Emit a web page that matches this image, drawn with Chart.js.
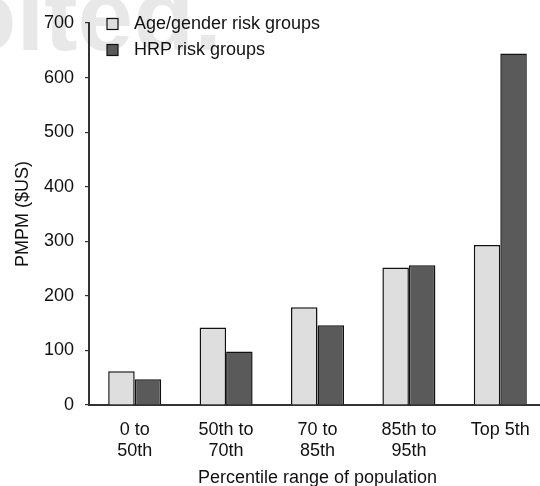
<!DOCTYPE html>
<html>
<head>
<meta charset="utf-8">
<script src="https://cdn.jsdelivr.net/npm/chart.js@4/dist/chart.umd.min.js"></script>
<style>
  html, body { margin: 0; padding: 0; background: #fff; overflow: hidden; }
  #wrap { width: 548px; height: 486px; }
</style>
</head>
<body>
<div id="wrap"><canvas id="c" width="548" height="486"></canvas></div>
<script>
const categories = [["0 to", "50th"], ["50th to", "70th"], ["70 to", "85th"], ["85th to", "95th"], ["Top 5th"]];
const ageGenderValues = [62, 142, 179, 252, 293];
const hrpValues = [47, 98, 146, 256, 644];
const seriesNames = ["Age/gender risk groups", "HRP risk groups"];
const yTicks = [0, 100, 200, 300, 400, 500, 600, 700];

const FONT = "'Liberation Sans', Arial, Helvetica, sans-serif";
const TXT = "#111";
const FS = 18;

const bgPlugin = {
  id: "bg",
  beforeDraw(chart) {
    const ctx = chart.ctx;
    ctx.save();
    ctx.fillStyle = "#fff";
    ctx.fillRect(0, 0, chart.width, chart.height);
    ctx.fillStyle = "#e8e8e8";
    ctx.font = "bold 100px " + FONT;
    ctx.textAlign = "right";
    ctx.textBaseline = "alphabetic";
    ctx.fillText("oited.", 222, 50);
    ctx.restore();
  }
};

const legendPlugin = {
  id: "customLegend",
  afterDraw(chart) {
    const ctx = chart.ctx;
    ctx.save();
    ctx.font = FS + "px " + FONT;
    ctx.textBaseline = "middle";
    ctx.textAlign = "left";
    chart.data.datasets.forEach((ds, i) => {
      const y = 24.5 + i * 26;
      ctx.fillStyle = ds.backgroundColor;
      ctx.fillRect(107, y - 6, 11, 11);
      ctx.strokeStyle = "#111";
      ctx.lineWidth = 1.2;
      ctx.strokeRect(107, y - 6, 11, 11);
      ctx.fillStyle = TXT;
      ctx.fillText(ds.label, 134, y);
    });
    ctx.restore();
  }
};

new Chart(document.getElementById("c"), {
  type: "bar",
  data: {
    labels: categories,
    datasets: [
      { label: seriesNames[0], data: ageGenderValues, backgroundColor: "#dedede", borderColor: "#111", borderWidth: 1.5 },
      { label: seriesNames[1], data: hrpValues, backgroundColor: "#5a5a5a", borderColor: "#111", borderWidth: 1.5 }
    ]
  },
  options: {
    responsive: false,
    devicePixelRatio: 1,
    animation: false,
    layout: { padding: { left: 0, top: 23, right: 2, bottom: 0 } },
    datasets: { bar: { categoryPercentage: 0.58, barPercentage: 1.0 } },
    plugins: { legend: { display: false }, tooltip: { enabled: false } },
    scales: {
      x: {
        grid: { display: false, drawTicks: false },
        border: { display: true, color: "#333", width: 2 },
        ticks: { color: TXT, font: { family: FONT, size: FS, lineHeight: 1.2 }, padding: 14, maxRotation: 0, autoSkip: false },
        title: { display: true, text: "Percentile range of population", color: TXT, font: { family: FONT, size: FS, lineHeight: 1.2 }, padding: { top: 0, bottom: -3 } },
        afterFit(scale) { scale.height = 81; }
      },
      y: {
        min: 0, max: 700,
        afterBuildTicks(scale) { scale.ticks = yTicks.map(v => ({ value: v })); },
        grid: { drawOnChartArea: false, drawTicks: true, tickLength: 4, color: "#333", lineWidth: 1.2 },
        border: { display: true, color: "#333", width: 2 },
        ticks: { color: TXT, font: { family: FONT, size: FS }, padding: 11 },
        title: { display: true, text: "PMPM ($US)", color: TXT, font: { family: FONT, size: FS, lineHeight: 1.2 }, padding: { top: 12, bottom: 0 } },
        afterFit(scale) { scale.width = 89; }
      }
    }
  },
  plugins: [bgPlugin, legendPlugin]
});
</script>
</body>
</html>
